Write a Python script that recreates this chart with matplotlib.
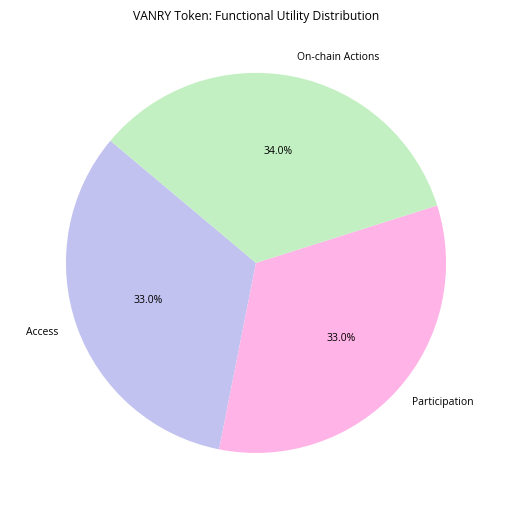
import matplotlib
matplotlib.use("Agg")
import matplotlib.pyplot as plt

labels = ["Access", "Participation", "On-chain Actions"]
shares = [33, 33, 34]
colors = ["#c2c2f0", "#ffb3e6", "#c2f0c2"]

plt.rcParams["font.family"] = ["Open Sans", "DejaVu Sans"]


def main():
    fig = plt.figure(figsize=(5.12, 5.12), dpi=100)
    ax = fig.add_axes([0.036, 0.0225, 0.928, 0.928])
    ax.pie(shares, labels=labels, colors=colors, autopct="%1.1f%%", startangle=140,
           textprops={"fontsize": 7.5})
    ax.set_aspect("equal")
    fig.text(0.5, 0.968, "VANRY Token: Functional Utility Distribution", ha="center", va="center",
             fontsize=8.7)
    fig.savefig("out.png", dpi=100)
    plt.close(fig)


if __name__ == "__main__":
    main()
